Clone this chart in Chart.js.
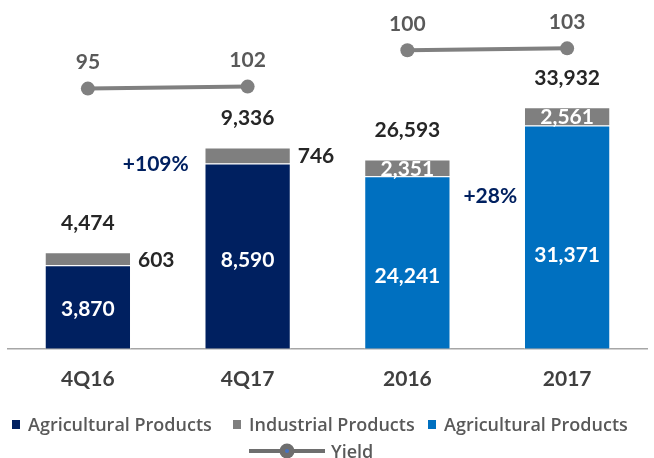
<!DOCTYPE html>
<html>
<head>
<meta charset="utf-8">
<script src="https://cdn.jsdelivr.net/npm/chart.js@4"></script>
<style>
  html, body { margin: 0; padding: 0; background: #fff; }
  #wrap { position: relative; width: 654px; height: 458px; }
  #legend { position: absolute; left: 0; top: 0; width: 654px; height: 458px; pointer-events: none;
            font-family: "Open Sans", sans-serif; font-weight: 600; font-size: 18px; color: #595959; }
  .li { position: absolute; display: flex; align-items: center; height: 24px; white-space: nowrap; line-height: 24px; }
  .box { width: 8px; height: 9px; margin-right: 8px; }
</style>
</head>
<body>
<div id="wrap">
  <canvas id="c" width="654" height="458"></canvas>
  <div id="legend"></div>
</div>
<script>
const categories = ['4Q16', '4Q17', '2016', '2017'];
const agriQuarter = [3870, 8590, null, null];
const indQuarter = [603, 746, null, null];
const agriYear = [null, null, 24241, 31371];
const indYear = [null, null, 2351, 2561];
const totals = [4474, 9336, 26593, 33932];
const yieldQuarter = [95, 102, null, null];
const yieldYear = [null, null, 100, 103];
const growthLabels = ['+109%', '+28%'];

const NAVY = '#002060', BLUE = '#0070C0', GRAY = '#7F7F7F';
const FONT = 'Lato, sans-serif';
const fmt = v => v.toLocaleString('en-US');

const labelPlugin = {
  id: 'labels',
  afterDatasetsDraw(chart) {
    const ctx = chart.ctx;
    const area = chart.chartArea;
    ctx.save();
    ctx.font = 'bold 21px ' + FONT;
    ctx.textBaseline = 'middle';
    [[0, 0.48], [2, 0.42]].forEach(([di, frac]) => {
      chart.getDatasetMeta(di).data.forEach((el, i) => {
        const v = chart.data.datasets[di].data[i];
        if (v == null) return;
        ctx.fillStyle = '#FFFFFF'; ctx.textAlign = 'center';
        ctx.fillText(fmt(v), el.x, el.base - (el.base - el.y) * frac);
      });
    });
    chart.getDatasetMeta(1).data.forEach((el, i) => {
      const v = chart.data.datasets[1].data[i];
      if (v == null) return;
      ctx.fillStyle = '#262626'; ctx.textAlign = 'left';
      ctx.fillText(fmt(v), el.x + el.width / 2 + 7, (el.y + el.base) / 2 + 1);
    });
    chart.getDatasetMeta(3).data.forEach((el, i) => {
      const v = chart.data.datasets[3].data[i];
      if (v == null) return;
      ctx.fillStyle = '#FFFFFF'; ctx.textAlign = 'center';
      ctx.fillText(fmt(v), el.x, (el.y + el.base) / 2 + 1);
    });
    totals.forEach((t, i) => {
      const el = chart.getDatasetMeta(i < 2 ? 1 : 3).data[i];
      ctx.fillStyle = '#262626'; ctx.textAlign = 'center';
      ctx.fillText(fmt(t), el.x, el.y - 29);
    });
    [4, 5].forEach(di => {
      chart.getDatasetMeta(di).data.forEach((el, i) => {
        const v = chart.data.datasets[di].data[i];
        if (v == null) return;
        ctx.fillStyle = '#595959'; ctx.textAlign = 'center';
        ctx.fillText(String(v), el.x, el.y - 26);
      });
    });
    const xs = chart.scales.x;
    [[0, 1, -12, 0.46], [2, 3, 3, 0.553]].forEach(([a, b, dx, yf], k) => {
      const x = (xs.getPixelForValue(a) + xs.getPixelForValue(b)) / 2 + dx;
      ctx.fillStyle = NAVY; ctx.textAlign = 'center';
      ctx.fillText(growthLabels[k], x, area.top + (area.bottom - area.top) * yf);
    });
    ctx.restore();
  }
};

const barBorder = { borderColor: 'rgba(255,255,255,0.6)', borderWidth: 1 };
const lineStyle = { borderColor: '#808080', backgroundColor: '#808080', borderWidth: 4, pointRadius: 7,
  pointBackgroundColor: '#808080', pointBorderWidth: 0, spanGaps: false, order: 1 };

const chart = new Chart(document.getElementById('c'), {
  data: {
    labels: categories,
    datasets: [
      Object.assign({ type: 'bar', label: 'Agricultural Products', data: agriQuarter, backgroundColor: NAVY, yAxisID: 'yQ', order: 2 }, barBorder),
      Object.assign({ type: 'bar', label: 'Industrial Products', data: indQuarter, backgroundColor: GRAY, yAxisID: 'yQ', order: 2 }, barBorder),
      Object.assign({ type: 'bar', label: 'Agricultural Products', data: agriYear, backgroundColor: BLUE, yAxisID: 'yA', order: 2 }, barBorder),
      Object.assign({ type: 'bar', label: 'Industrial Products', data: indYear, backgroundColor: GRAY, yAxisID: 'yA', order: 2 }, barBorder),
      Object.assign({ type: 'line', label: 'Yield', data: yieldQuarter, yAxisID: 'yieldQ' }, lineStyle),
      Object.assign({ type: 'line', label: 'Yield', data: yieldYear, yAxisID: 'yieldA' }, lineStyle)
    ]
  },
  options: {
    responsive: false,
    animation: false,
    layout: { padding: { left: 8, right: 0, top: 0, bottom: 48 } },
    datasets: { bar: { barPercentage: 0.54, categoryPercentage: 1.0 } },
    plugins: { legend: { display: false }, tooltip: { enabled: false } },
    scales: {
      x: {
        stacked: true,
        grid: { display: false, drawTicks: false },
        border: { display: true, color: '#A6A6A6', width: 1.5 },
        ticks: { color: '#404040', font: { family: FONT, size: 21, weight: 'bold' }, padding: 18 }
      },
      yQ: { display: false, stacked: true, min: 0, max: 15850 },
      yA: { display: false, stacked: true, min: 0, max: 48000 },
      yieldQ: { display: false, min: -830, max: 385 },
      yieldA: { display: false, min: -355, max: 166 }
    }
  },
  plugins: [labelPlugin]
});

// HTML legend built from datasets
const legend = document.getElementById('legend');
const legendSlots = [[0, 12, 412], [1, 233, 412], [2, 428, 412]];
legendSlots.forEach(([di, left, top]) => {
  const ds = chart.data.datasets[di];
  const item = document.createElement('span');
  item.className = 'li';
  item.style.left = left + 'px'; item.style.top = top + 'px';
  const box = document.createElement('span');
  box.className = 'box';
  box.style.background = ds.backgroundColor;
  item.appendChild(box);
  item.appendChild(document.createTextNode(ds.label));
  legend.appendChild(item);
});
const yitem = document.createElement('span'); yitem.className = 'li';
yitem.style.left = '249px'; yitem.style.top = '439px';
const lc = document.createElement('canvas'); lc.width = 76; lc.height = 16; lc.style.marginRight = '6px';
const g = lc.getContext('2d');
g.strokeStyle = '#6E6E6E'; g.lineWidth = 4; g.beginPath(); g.moveTo(0, 8); g.lineTo(76, 8); g.stroke();
g.fillStyle = '#6E6E6E'; g.beginPath(); g.arc(38, 8, 7.5, 0, Math.PI * 2); g.fill();
g.fillStyle = '#4472C4'; g.beginPath(); g.arc(38, 8, 2, 0, Math.PI * 2); g.fill();
yitem.appendChild(lc);
yitem.appendChild(document.createTextNode(chart.data.datasets[4].label));
legend.appendChild(yitem);
</script>
</body>
</html>
